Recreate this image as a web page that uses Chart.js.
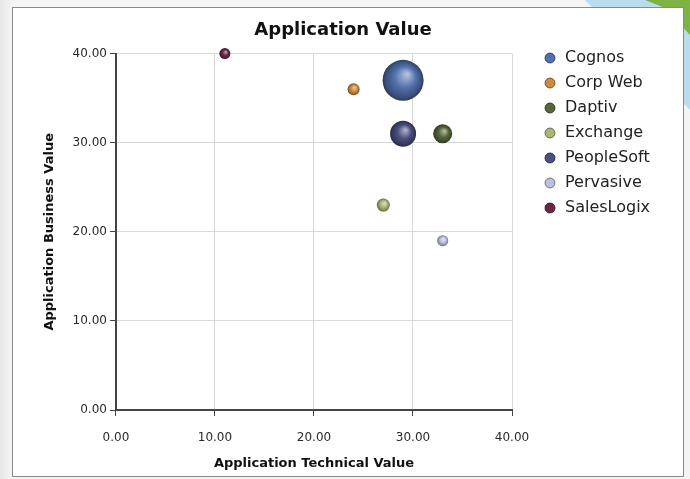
<!DOCTYPE html>
<html>
<head>
<meta charset="utf-8">
<script src="https://cdn.jsdelivr.net/npm/chart.js@4.4.1/dist/chart.umd.min.js"></script>
<style>
  html, body { margin: 0; padding: 0; }
  body { width: 690px; height: 479px; overflow: hidden; position: relative;
         background: linear-gradient(90deg, #e6e6e6 0px, #f4f4f4 12px, #f4f4f4 100%); }
  .blue { position: absolute; left: 0; top: 0; width: 690px; height: 479px;
          background: #b9dcef; clip-path: polygon(585px 0, 690px 0, 690px 110px); }
  .green { position: absolute; left: 0; top: 0; width: 690px; height: 479px;
           background: #7cb342; clip-path: polygon(645px 0, 690px 0, 690px 35px, 665px 8px); }
  .panel { position: absolute; left: 12px; top: 7px; width: 670px; height: 468px;
           background: #fff; border: 1px solid #8a8a8a; }
  #wrap { position: absolute; left: 0; top: 0; width: 690px; height: 479px; }
</style>
</head>
<body>
<div class="blue"></div>
<div class="green"></div>
<div class="panel"></div>
<div id="wrap"><canvas id="bubble-chart"></canvas></div>
<script>
// application data
const apps = ['Cognos', 'Corp Web', 'Daptiv', 'Exchange', 'PeopleSoft', 'Pervasive', 'SalesLogix'];
const techValue = [29, 24, 33, 27, 29, 33, 11];
const businessValue = [37, 36, 31, 23, 31, 19, 40];
const bubbleSize = [20.5, 6, 9.5, 6.5, 13, 5.5, 5.5];
const colours = ['#5270ad', '#cf8a3e', '#56663a', '#a9b878', '#4a4f80', '#bcc0de', '#6a2647'];
const axisTicks = [0, 10, 20, 30, 40];

function shade(hex, amt) {
  let n = parseInt(hex.slice(1), 16);
  let r = (n >> 16) & 255, g = (n >> 8) & 255, b = n & 255;
  const f = c => Math.round(amt >= 0 ? c + (255 - c) * amt : c * (1 + amt));
  return 'rgb(' + f(r) + ',' + f(g) + ',' + f(b) + ')';
}

// sphere look: radial gradient placed on the bubble through the scales
function sphereFill(ctx) {
  const base = colours[ctx.datasetIndex];
  if (ctx.type !== 'data' || !ctx.raw) return base;
  const chart = ctx.chart;
  if (!chart.scales.x || !chart.scales.y) return base;
  const px = chart.scales.x.getPixelForValue(ctx.raw.x);
  const py = chart.scales.y.getPixelForValue(ctx.raw.y);
  const r = ctx.raw.r;
  if (!isFinite(px) || !isFinite(py)) return base;
  const g = chart.ctx.createRadialGradient(px + r * 0.2, py - r * 0.3, r * 0.05, px, py, r);
  g.addColorStop(0, shade(base, 0.55));
  g.addColorStop(0.5, base);
  g.addColorStop(0.88, shade(base, -0.3));
  g.addColorStop(1, shade(base, -0.5));
  return g;
}

const datasets = apps.map(function (name, i) {
  return {
    label: name,
    data: [{ x: techValue[i], y: businessValue[i], r: bubbleSize[i] }],
    backgroundColor: sphereFill,
    borderWidth: 0,
    clip: false
  };
});

// legend sits a little away from the plot, like the original
const legendGap = {
  id: 'legendGap',
  afterLayout: function (chart) {
    if (!chart.legend) return;
    chart.legend.left += 22;
    chart.legend.right += 22;
  }
};

const font = 'DejaVu Sans';

function drawChart() {
  const ctx = document.getElementById('bubble-chart');
  new Chart(ctx, {
    type: 'bubble',
    data: { datasets: datasets },
    plugins: [legendGap],
    options: {
      responsive: true,
      maintainAspectRatio: false,
      animation: false,
      events: [],
      layout: { padding: { left: 42, right: 46, top: 7, bottom: 8 } },
      scales: {
        x: {
          type: 'linear', min: 0, max: 40,
          afterBuildTicks: function (axis) { axis.ticks = axisTicks.map(v => ({ value: v })); },
          afterFit: function (axis) { axis.paddingRight = 178; },
          ticks: { callback: v => v.toFixed(2), color: '#2a2a2a', font: { family: font, size: 12 }, maxRotation: 0, padding: 15 },
          grid: { color: '#d8d8d8', tickColor: '#444', tickLength: 6 },
          border: { color: '#444', width: 2 },
          title: { display: true, text: 'Application Technical Value', color: '#111',
                   font: { family: font, size: 13, weight: 'bold' }, padding: { top: -5, bottom: 0 } }
        },
        y: {
          type: 'linear', min: 0, max: 40,
          afterBuildTicks: function (axis) { axis.ticks = axisTicks.map(v => ({ value: v })); },
          ticks: { callback: v => v.toFixed(2), color: '#2a2a2a', font: { family: font, size: 12 }, padding: 3 },
          grid: { color: '#d8d8d8', tickColor: '#444', tickLength: 6 },
          border: { color: '#444', width: 2 },
          title: { display: true, text: 'Application Business Value', color: '#111',
                   font: { family: font, size: 13, weight: 'bold' }, padding: { top: 0, bottom: 12 } }
        }
      },
      plugins: {
        title: {
          display: true, text: 'Application Value', color: '#111',
          font: { family: font, size: 18, weight: 'bold' }, padding: { top: 13, bottom: 12 }
        },
        legend: {
          position: 'right', align: 'start',
          title: { display: true, text: '', font: { size: 10 }, padding: { top: 22, bottom: 0 } },
          labels: {
            usePointStyle: true, pointStyle: 'circle', boxWidth: 14, boxHeight: 7,
            padding: 9, color: '#222', font: { family: font, size: 16 },
            generateLabels: function (chart) {
              return chart.data.datasets.map(function (ds, i) {
                return {
                  text: ds.label, fillStyle: colours[i], strokeStyle: shade(colours[i], -0.4),
                  fontColor: '#222', lineWidth: 1, pointStyle: 'circle', datasetIndex: i, hidden: false
                };
              });
            }
          }
        },
        tooltip: { enabled: false }
      }
    }
  });
}

drawChart();
</script>
</body>
</html>
